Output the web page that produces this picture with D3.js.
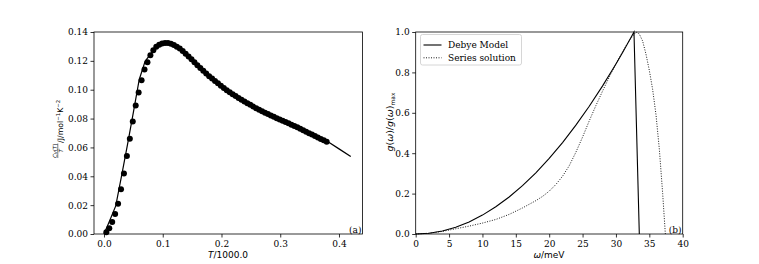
<!DOCTYPE html>
<html>
<head>
<meta charset="utf-8">
<script src="https://cdn.jsdelivr.net/npm/d3@7"></script>
<style>
  body { margin: 0; background: #fff; }
  svg { display: block; }
  .tick text { font-family: "DejaVu Serif", serif; font-size: 9px; fill: #000; }
  .tick line { stroke: #000; stroke-width: 0.8; }
</style>
</head>
<body>
<svg id="chart" width="759" height="264"></svg>
<script>
// panel (a): measured points (dots) and model line
const dotT = [0.004, 0.009, 0.014, 0.019, 0.024, 0.029, 0.034, 0.039, 0.044, 0.049,
  0.054, 0.059, 0.064, 0.069, 0.074, 0.079, 0.084, 0.089, 0.094, 0.099,
  0.104, 0.109, 0.114, 0.119, 0.124, 0.129, 0.134, 0.139, 0.144, 0.149,
  0.154, 0.159, 0.164, 0.169, 0.174, 0.179, 0.184, 0.189, 0.194, 0.199,
  0.204, 0.209, 0.214, 0.219, 0.224, 0.229, 0.234, 0.239, 0.244, 0.249,
  0.254, 0.259, 0.264, 0.269, 0.274, 0.279, 0.284, 0.289, 0.294, 0.299,
  0.304, 0.309, 0.314, 0.319, 0.324, 0.329, 0.334, 0.339, 0.344, 0.349,
  0.354, 0.359, 0.364, 0.369, 0.374, 0.379];
const dotCv = [0.0012, 0.004, 0.0083, 0.0138, 0.021, 0.031, 0.042, 0.054, 0.066, 0.078,
  0.089, 0.098, 0.1065, 0.114, 0.119, 0.1238, 0.1273, 0.1297, 0.1312, 0.132,
  0.1324, 0.1324, 0.1319, 0.131, 0.1298, 0.1285, 0.1268, 0.125, 0.1231, 0.1211,
  0.119, 0.117, 0.115, 0.1131, 0.1112, 0.1094, 0.1077, 0.106, 0.1044, 0.1028,
  0.1012, 0.0996, 0.0983, 0.0969, 0.0956, 0.0943, 0.093, 0.0918, 0.0906, 0.0895,
  0.0883, 0.0872, 0.0861, 0.0851, 0.0841, 0.0831, 0.0822, 0.0812, 0.0803, 0.0794,
  0.0785, 0.0776, 0.0767, 0.0758, 0.0749, 0.0739, 0.0729, 0.0719, 0.0709, 0.0699,
  0.0689, 0.0679, 0.0669, 0.0659, 0.0649, 0.0639];
const lineT = [0, 0.01, 0.02, 0.03, 0.04, 0.05, 0.06, 0.07, 0.08, 0.09, 0.10, 0.11, 0.12,
  0.14, 0.16, 0.18, 0.20, 0.22, 0.24, 0.26, 0.28, 0.30, 0.32, 0.34, 0.36, 0.38, 0.40, 0.42];
const lineCv = [0, 0.0095, 0.0195, 0.0404, 0.0619, 0.0843, 0.1071, 0.1197, 0.1252, 0.1298, 0.1322, 0.1326, 0.1314,
  0.1249, 0.1167, 0.1092, 0.1024, 0.0966, 0.0914, 0.0868, 0.0826, 0.0787, 0.0752, 0.0717, 0.0682, 0.0642, 0.0590, 0.0537];
const ticksA_x = [0.0, 0.1, 0.2, 0.3, 0.4];
const ticksA_y = [0, 0.02, 0.04, 0.06, 0.08, 0.10, 0.12, 0.14];

// panel (b): density of states
const debyeW = [0, 2, 4, 6, 8, 10, 12, 14, 16, 18, 20, 22, 24, 26, 28, 30, 31, 32, 32.7, 33.5];
const debyeG = [0, 0.0037, 0.015, 0.0337, 0.0599, 0.0935, 0.1347, 0.1833, 0.2394, 0.303, 0.3741,
  0.4526, 0.5387, 0.6322, 0.7332, 0.8417, 0.8987, 0.9576, 1.0, 0];
const seriesW = [0, 2, 4, 6, 8, 10, 12, 14, 16, 18, 19, 20, 21, 22, 23, 24, 25, 26, 27, 28, 29, 30,
  31, 32, 33, 33.5, 34, 34.5, 35, 35.5, 36, 36.5, 37, 37.4];
const seriesG = [0, 0.004, 0.013, 0.026, 0.039, 0.054, 0.072, 0.097, 0.129, 0.165, 0.186, 0.212, 0.245,
  0.286, 0.338, 0.405, 0.48, 0.56, 0.636, 0.708, 0.777, 0.843,
  0.903, 0.958, 1.0, 0.99, 0.955, 0.89, 0.81, 0.715, 0.59, 0.42, 0.2, 0];
const ticksB_x = [0, 5, 10, 15, 20, 25, 30, 35, 40];
const ticksB_y = [0, 0.2, 0.4, 0.6, 0.8, 1.0];
const legendLabels = ['Debye Model', 'Series solution'];

const svg = d3.select('#chart');
const axTop = 32, axBottom = 234;

function frame(g, x0, x1) {
  g.append('rect')
    .attr('x', x0).attr('y', axTop)
    .attr('width', x1 - x0).attr('height', axBottom - axTop)
    .attr('fill', 'none').attr('stroke', '#000').attr('stroke-width', 0.8);
}

function axes(g, x, y, fx, fy, tx, ty) {
  g.append('g')
    .attr('transform', `translate(0,${axBottom})`)
    .call(d3.axisBottom(x).tickValues(tx).tickFormat(fx).tickSize(3.5).tickPadding(3))
    .call(a => a.select('.domain').remove());
  g.append('g')
    .attr('transform', `translate(${x.range()[0]},0)`)
    .call(d3.axisLeft(y).tickValues(ty).tickFormat(fy).tickSize(3.5).tickPadding(2.5))
    .call(a => a.select('.domain').remove());
}

// ---- panel (a)
const xa = d3.scaleLinear().domain([-0.017, 0.440]).range([94, 362.5]);
const ya = d3.scaleLinear().domain([0, 0.14]).range([axBottom, axTop]);
const ga = svg.append('g');
axes(ga, xa, ya, d3.format('.1f'), d3.format('.2f'), ticksA_x, ticksA_y);

const lineA = d3.line().x(d => xa(d[0])).y(d => ya(d[1]));
ga.append('path')
  .attr('d', lineA(d3.zip(lineT, lineCv)))
  .attr('fill', 'none').attr('stroke', '#000').attr('stroke-width', 1.2);
ga.selectAll('circle')
  .data(d3.zip(dotT, dotCv))
  .enter().append('circle')
  .attr('cx', d => xa(d[0])).attr('cy', d => ya(d[1]))
  .attr('r', 3).attr('fill', '#000');
frame(ga, 94, 362.5);

ga.append('text')
  .attr('x', 361.5).attr('y', 232.5).attr('text-anchor', 'end')
  .style('font-family', 'DejaVu Serif').style('font-size', '9px').text('(a)');

ga.append('text')
  .attr('x', 228).attr('y', 258).attr('text-anchor', 'middle')
  .style('font-family', 'DejaVu Sans').style('font-size', '9px')
  .call(t => {
    t.append('tspan').style('font-style', 'italic').text('T');
    t.append('tspan').text('/1000.0');
  });

// y label (a): fraction Cv(T)/T then units
const la = ga.append('g').attr('transform', 'translate(63,128) rotate(-90)')
  .style('font-family', 'DejaVu Sans');
const fx0 = -30, fw = 14.5;
la.append('text').attr('x', fx0 + fw / 2).attr('y', -6.5).attr('text-anchor', 'middle')
  .style('font-size', '5.6px')
  .call(t => {
    t.append('tspan').style('font-style', 'italic').text('C');
    t.append('tspan').style('font-style', 'italic').style('font-size', '4px').attr('dy', 0.9).text('V');
    t.append('tspan').attr('dy', -0.9).text('(');
    t.append('tspan').style('font-style', 'italic').text('T');
    t.append('tspan').text(')');
  });
la.append('line').attr('x1', fx0).attr('x2', fx0 + fw).attr('y1', -5.2).attr('y2', -5.2)
  .attr('stroke', '#000').attr('stroke-width', 0.5);
la.append('text').attr('x', fx0 + fw / 2).attr('y', 0).attr('text-anchor', 'middle')
  .style('font-size', '5.6px').style('font-style', 'italic').text('T');
la.append('text').attr('x', fx0 + fw + 0.6).attr('y', 0)
  .style('font-size', '7.8px')
  .call(t => {
    t.append('tspan').text('/J/mol');
    t.append('tspan').style('font-size', '5.4px').attr('dy', -3.2).text('\u22121');
    t.append('tspan').attr('dy', 3.2).text('K');
    t.append('tspan').style('font-size', '5.4px').attr('dy', -3.2).text('\u22122');
  });

// ---- panel (b)
const xb = d3.scaleLinear().domain([0, 40]).range([415.7, 682.7]);
const yb = d3.scaleLinear().domain([0, 1]).range([axBottom, axTop]);
const gb = svg.append('g');
axes(gb, xb, yb, d3.format('d'), d3.format('.1f'), ticksB_x, ticksB_y);

const lineB = d3.line().x(d => xb(d[0])).y(d => yb(d[1]));
gb.append('path')
  .attr('d', lineB(d3.zip(debyeW, debyeG)))
  .attr('fill', 'none').attr('stroke', '#000').attr('stroke-width', 1.1);
gb.append('path')
  .attr('d', lineB(d3.zip(seriesW, seriesG)))
  .attr('fill', 'none').attr('stroke', '#000').attr('stroke-width', 0.9)
  .attr('stroke-dasharray', '1,1.5');
frame(gb, 415.7, 682.7);

gb.append('text')
  .attr('x', 681.5).attr('y', 232.5).attr('text-anchor', 'end')
  .style('font-family', 'DejaVu Serif').style('font-size', '9px').text('(b)');

gb.append('text')
  .attr('x', 549).attr('y', 258).attr('text-anchor', 'middle')
  .style('font-family', 'DejaVu Sans').style('font-size', '9px')
  .call(t => {
    t.append('tspan').style('font-style', 'italic').text('\u03c9');
    t.append('tspan').text('/meV');
  });

gb.append('text')
  .attr('transform', 'translate(393,122) rotate(-90)')
  .attr('text-anchor', 'middle')
  .style('font-family', 'DejaVu Sans').style('font-size', '9.5px')
  .call(t => {
    t.append('tspan').style('font-style', 'italic').text('g');
    t.append('tspan').text('(');
    t.append('tspan').style('font-style', 'italic').text('\u03c9');
    t.append('tspan').text(')/');
    t.append('tspan').style('font-style', 'italic').text('g');
    t.append('tspan').text('(');
    t.append('tspan').style('font-style', 'italic').text('\u03c9');
    t.append('tspan').text(')');
    t.append('tspan').style('font-size', '6px').attr('dy', 2).text('max');
  });

// legend
const lg = gb.append('g');
lg.append('rect')
  .attr('x', 420.5).attr('y', 34.5).attr('width', 101).attr('height', 30.5).attr('rx', 2)
  .attr('fill', '#fff').attr('fill-opacity', 0.8).attr('stroke', '#ccc').attr('stroke-width', 0.8);
legendLabels.forEach((name, i) => {
  const yy = 45 + i * 12.8;
  lg.append('line')
    .attr('x1', 423.5).attr('x2', 441.5).attr('y1', yy).attr('y2', yy)
    .attr('stroke', '#000').attr('stroke-width', i ? 0.9 : 1.1)
    .attr('stroke-dasharray', i ? '1,1.5' : null);
  lg.append('text')
    .attr('x', 448).attr('y', yy + 3.2)
    .style('font-family', 'DejaVu Serif').style('font-size', '9px').text(name);
});
</script>
</body>
</html>
